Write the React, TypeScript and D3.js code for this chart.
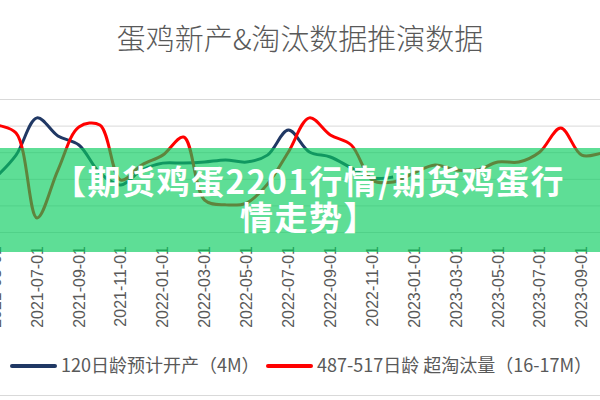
import { useEffect, useRef } from "react";
import * as d3 from "d3";

const WIDTH = 600;
const HEIGHT = 400;

// month axis: index 0 = 2021-07-01
const START = new Date(2021, 6, 1);
const FIRST_IDX = -2;
const LAST_IDX = 28;

// 120日龄预计开产（4M）, month index -2 .. 17
const openValues = [
  303, 389, 529, 461, 427, 322, 277, 333, 359, 359,
  363, 371, 363, 389, 483, 401, 382, 341, 303, 307,
];

// 487-517日龄 超淘汰量（16-17M）, month index -2 .. 28
const cullValues = [
  502, 472, 153, 333, 495, 502, 295, 352, 389, 457,
  220, 202, 209, 280, 401, 529, 465, 427, 295, 288,
  322, 352, 333, 333, 363, 363, 401, 491, 389, 397, 408,
];

const gridValues = [100, 200, 300, 400, 500, 600];
const tickMonths = d3.range(FIRST_IDX, LAST_IDX + 1, 2); // 2021-05 … 2023-11

const TITLE = "蛋鸡新产&淘汰数据推演数据";
const BANNER = ["【期货鸡蛋2201行情/期货鸡蛋行", "情走势】"];
const LEGEND = [
  { label: "120日龄预计开产（4M）", color: "#203864" },
  { label: "487-517日龄 超淘汰量（16-17M）", color: "#ff0000" },
];

const CJK = "'Noto Sans CJK SC', 'Noto Sans', sans-serif";

export default function App() {
  const ref = useRef<SVGSVGElement | null>(null);

  useEffect(() => {
    const svg = d3.select(ref.current);
    svg.selectAll("*").remove();

    const x = d3.scaleLinear().domain([0, 26]).range([37, 581.7]);
    const y = d3.scaleLinear().domain([0, 600]).range([258.6, 99]);

    svg.append("rect").attr("width", WIDTH).attr("height", HEIGHT).attr("fill", "#fff");

    // title
    svg
      .append("text")
      .attr("x", 300)
      .attr("y", 50)
      .attr("text-anchor", "middle")
      .style("font-family", CJK)
      .style("font-weight", 300)
      .style("font-size", "29px")
      .attr("fill", "#595959")
      .text(TITLE);

    // grid
    svg
      .append("g")
      .selectAll("line")
      .data(gridValues)
      .join("line")
      .attr("x1", 0)
      .attr("x2", WIDTH)
      .attr("y1", (d) => y(d) + 0.5)
      .attr("y2", (d) => y(d) + 0.5)
      .attr("stroke", "#d9d9d9")
      .attr("stroke-width", 1);

    // x labels
    const fmt = d3.timeFormat("%Y-%m-%d");
    svg
      .append("g")
      .selectAll("text")
      .data(tickMonths)
      .join("text")
      .attr("transform", (d) => `translate(${x(d)},246) rotate(-90)`)
      .attr("text-anchor", "end")
      .attr("dy", "0.35em")
      .style("font-family", "'Liberation Sans', Arial, sans-serif")
      .style("font-size", "16px")
      .attr("fill", "#595959")
      .text((d) => fmt(d3.timeMonth.offset(START, d)));

    const series = [
      { values: openValues, color: LEGEND[0].color },
      { values: cullValues, color: LEGEND[1].color },
    ];
    const line = d3
      .line<number>()
      .x((_, i) => x(FIRST_IDX + i))
      .y((d) => y(d))
      .curve(d3.curveCatmullRom.alpha(0.5));

    series.forEach((s) => {
      svg
        .append("path")
        .datum(s.values)
        .attr("d", line)
        .attr("fill", "none")
        .attr("stroke", s.color)
        .attr("stroke-width", 3)
        .attr("stroke-linejoin", "round");
    });

    // green banner over the chart
    svg
      .append("rect")
      .attr("x", 0)
      .attr("y", 148)
      .attr("width", WIDTH)
      .attr("height", 104)
      .attr("fill", "rgba(7,204,94,0.65)");

    svg
      .append("g")
      .selectAll("text")
      .data(BANNER)
      .join("text")
      .attr("x", 309)
      .attr("y", (_, i) => 194 + i * 36)
      .attr("text-anchor", "middle")
      .style("font-family", CJK)
      .style("font-weight", 700)
      .style("font-size", "33px")
      .style("letter-spacing", "1.5px")
      .attr("fill", "#fff")
      .text((d) => d);

    // legend
    const legendX = [12, 268];
    const lg = svg
      .append("g")
      .selectAll("g")
      .data(LEGEND)
      .join("g")
      .attr("transform", (_, i) => `translate(${legendX[i]},366)`);
    lg.append("line")
      .attr("x1", 0)
      .attr("x2", 43)
      .attr("stroke", (d) => d.color)
      .attr("stroke-width", 4)
      .attr("stroke-linecap", "round");
    lg.append("text")
      .attr("x", 49)
      .attr("dy", "0.35em")
      .style("font-family", CJK)
      .style("font-size", "18px")
      .attr("fill", "#595959")
      .text((d) => d.label);

    svg
      .append("line")
      .attr("x1", 0)
      .attr("x2", WIDTH)
      .attr("y1", 395.5)
      .attr("y2", 395.5)
      .attr("stroke", "#d9d9d9");
  }, []);

  return (
    <svg
      ref={ref}
      width={WIDTH}
      height={HEIGHT}
      style={{ position: "absolute", left: 0, top: 0 }}
    />
  );
}
